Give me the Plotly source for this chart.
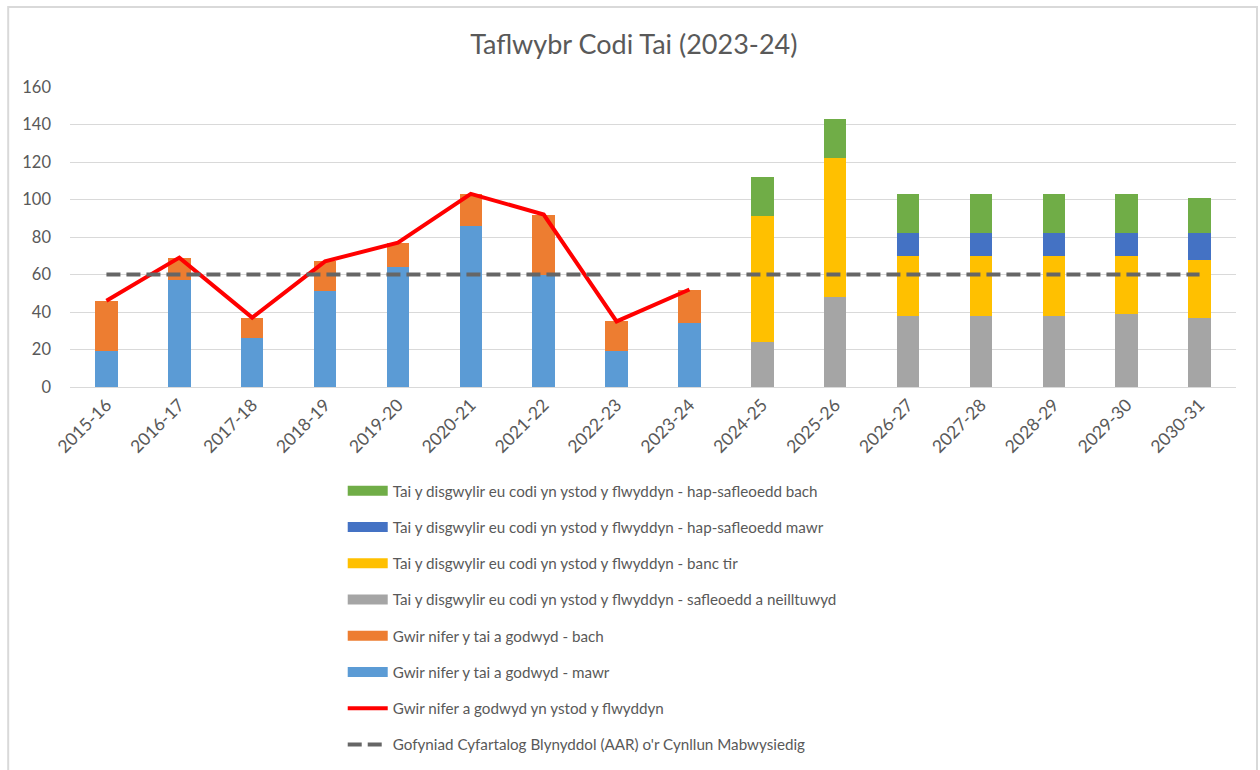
import plotly.graph_objects as go

# Financial years on the category axis
years = ["2015-16", "2016-17", "2017-18", "2018-19", "2019-20", "2020-21",
         "2021-22", "2022-23", "2023-24", "2024-25", "2025-26", "2026-27",
         "2027-28", "2028-29", "2029-30", "2030-31"]

# Completions actually built (large / small sites)
built_large = [19, 57, 26, 51, 64, 86, 60, 19, 34, None, None, None, None, None, None, None]
built_small = [27, 12, 11, 16, 13, 17, 32, 16, 18, None, None, None, None, None, None, None]

# Expected completions by source
exp_allocated = [None] * 9 + [24, 48, 38, 38, 38, 39, 37]
exp_landbank = [None] * 9 + [67, 74, 32, 32, 32, 31, 31]
exp_windfall_large = [None] * 9 + [None, None, 12, 12, 12, 12, 14]
exp_windfall_small = [None] * 9 + [21, 21, 21, 21, 21, 21, 19]

# Total built per year and the adopted plan's annual average requirement
built_total = [46, 69, 37, 67, 77, 103, 92, 35, 52]
aar = [60] * 16

FONT = "Lato"
TXT = "#595959"

names = {
    "green": "Tai y disgwylir eu codi yn ystod y flwyddyn - hap-safleoedd bach",
    "blue": "Tai y disgwylir eu codi yn ystod y flwyddyn - hap-safleoedd mawr",
    "yellow": "Tai y disgwylir eu codi yn ystod y flwyddyn - banc tir",
    "grey": "Tai y disgwylir eu codi yn ystod y flwyddyn - safleoedd a neilltuwyd",
    "orange": "Gwir nifer y tai a godwyd - bach",
    "lblue": "Gwir nifer y tai a godwyd - mawr",
    "red": "Gwir nifer a godwyd yn ystod y flwyddyn",
    "dash": "Gofyniad Cyfartalog Blynyddol (AAR) o'r Cynllun Mabwysiedig",
}
colors = {
    "green": "#70AD47", "blue": "#4472C4", "yellow": "#FFC000", "grey": "#A5A5A5",
    "orange": "#ED7D31", "lblue": "#5B9BD5",
}

fig = go.Figure()

# Stacked bars, bottom to top
stack = [
    ("lblue", built_large), ("orange", built_small),
    ("grey", exp_allocated), ("yellow", exp_landbank),
    ("blue", exp_windfall_large), ("green", exp_windfall_small),
]
for key, vals in stack:
    fig.add_trace(go.Bar(x=years, y=vals, name=names[key],
                         marker=dict(color=colors[key], line=dict(width=0)),
                         showlegend=False))

# Wide swatch legend entries for the bar series
rank = {"green": 1, "blue": 2, "yellow": 3, "grey": 4, "orange": 5, "lblue": 6}
for key, r in rank.items():
    fig.add_trace(go.Scatter(x=[None], y=[None], mode="lines", name=names[key],
                             line=dict(color=colors[key], width=10),
                             legendrank=r, legendgroup=key))

fig.add_trace(go.Scatter(x=years[:9], y=built_total, mode="lines", name=names["red"],
                         line=dict(color="#FF0000", width=4),
                         legendrank=7, legendgroup="red"))
fig.add_trace(go.Scatter(x=years, y=aar, mode="lines", name=names["dash"],
                         line=dict(color="#666666", width=4, dash="14px,6px"),
                         legendrank=8, legendgroup="dash"))

fig.update_layout(
    width=1260, height=770,
    margin=dict(l=70, r=24, t=87, b=383, autoexpand=False),
    paper_bgcolor="white", plot_bgcolor="white",
    barmode="stack", bargap=0.69,
    font=dict(family=FONT, color=TXT, size=16),
    title=dict(text="Taflwybr Codi Tai (2023-24)", x=0.503, xanchor="center",
               y=0.942, yanchor="middle", font=dict(size=27, color=TXT, family=FONT)),
    xaxis=dict(tickangle=-45, showgrid=False, showline=True, linecolor="#D9D9D9",
               linewidth=1, ticks="", automargin=False,
               tickfont=dict(size=17.5, color=TXT)),
    yaxis=dict(range=[0, 160], dtick=20, showgrid=True, gridcolor="#D9D9D9",
               gridwidth=1, zeroline=False, showline=False, ticks="", automargin=False,
               tickfont=dict(size=16.5, color=TXT), ticklabelstandoff=18),
    legend=dict(orientation="v", xref="container", yref="container",
                x=0.272, xanchor="left", y=0.384, yanchor="top",
                font=dict(size=15.2, color=TXT), tracegroupgap=13.5, itemwidth=40,
                bgcolor="rgba(0,0,0,0)"),
    shapes=[dict(type="rect", xref="paper", yref="paper",
                 x0=-0.053, x1=1.018, y0=-1.40, y1=1.267,
                 line=dict(color="#D9D9D9", width=2), fillcolor="rgba(0,0,0,0)",
                 layer="below")],
)

fig.write_html("out.html")
